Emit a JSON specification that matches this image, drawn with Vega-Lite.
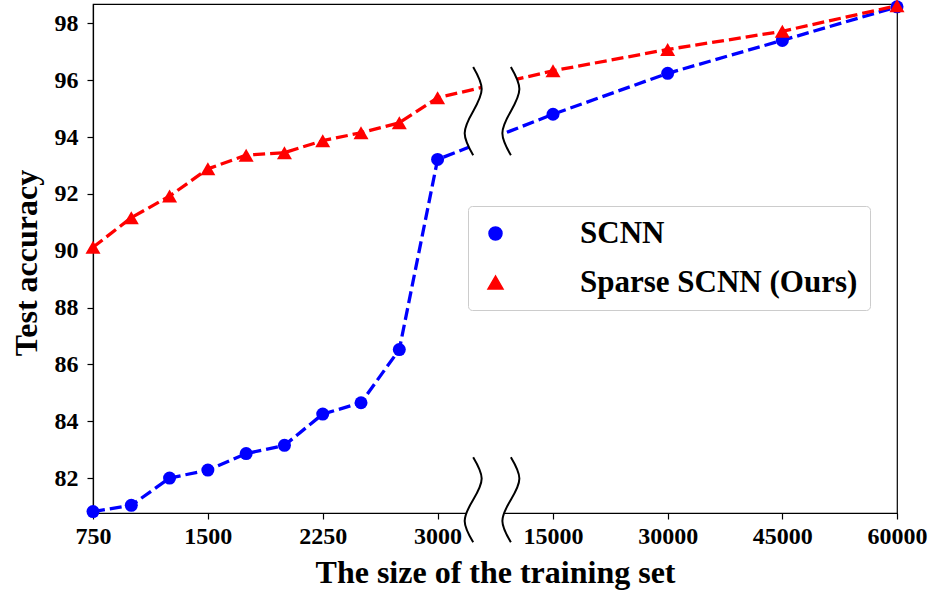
{
  "$schema": "https://vega.github.io/schema/vega-lite/v6.json",
  "width": 804,
  "height": 509,
  "autosize": {"type": "none"},
  "padding": {"left": 93, "top": 4, "right": 37, "bottom": 81},
  "background": "white",
  "config": {
    "font": "Liberation Serif",
    "view": {"stroke": "black", "strokeWidth": 1.2},
    "axis": {
      "grid": false,
      "labelFont": "Liberation Serif",
      "labelFontSize": 24,
      "labelFontWeight": "bold",
      "labelColor": "black",
      "tickColor": "black",
      "tickSize": 6,
      "tickWidth": 1.2,
      "domainColor": "black",
      "domainWidth": 1.2,
      "titleFont": "Liberation Serif",
      "titleFontSize": 32,
      "titleFontWeight": "bold",
      "titleColor": "black",
      "labelOverlap": false,
      "labelFlush": false
    },
    "legend": {
      "orient": "none",
      "legendX": 375,
      "legendY": 202,
      "title": null,
      "labelFont": "Liberation Serif",
      "labelFontSize": 31,
      "labelFontWeight": "bold",
      "labelColor": "black",
      "labelLimit": 500,
      "padding": 12,
      "rowPadding": 17,
      "symbolSize": 576,
      "labelOffset": 69,
      "strokeColor": "#cccccc",
      "fillColor": "white",
      "cornerRadius": 4
    }
  },
  "datasets": {
    "acc": [
      {"size": 750, "acc": 80.82, "series": "SCNN"},
      {"size": 1000, "acc": 81.04, "series": "SCNN"},
      {"size": 1250, "acc": 82.0, "series": "SCNN"},
      {"size": 1500, "acc": 82.28, "series": "SCNN"},
      {"size": 1750, "acc": 82.86, "series": "SCNN"},
      {"size": 2000, "acc": 83.15, "series": "SCNN"},
      {"size": 2250, "acc": 84.25, "series": "SCNN"},
      {"size": 2500, "acc": 84.65, "series": "SCNN"},
      {"size": 2750, "acc": 86.52, "series": "SCNN"},
      {"size": 3000, "acc": 93.21, "series": "SCNN"},
      {"size": 15000, "acc": 94.8, "series": "SCNN"},
      {"size": 30000, "acc": 96.24, "series": "SCNN"},
      {"size": 45000, "acc": 97.4, "series": "SCNN"},
      {"size": 60000, "acc": 98.58, "series": "SCNN"},
      {"size": 750, "acc": 90.12, "series": "Sparse SCNN (Ours)"},
      {"size": 1000, "acc": 91.16, "series": "Sparse SCNN (Ours)"},
      {"size": 1250, "acc": 91.92, "series": "Sparse SCNN (Ours)"},
      {"size": 1500, "acc": 92.88, "series": "Sparse SCNN (Ours)"},
      {"size": 1750, "acc": 93.36, "series": "Sparse SCNN (Ours)"},
      {"size": 2000, "acc": 93.45, "series": "Sparse SCNN (Ours)"},
      {"size": 2250, "acc": 93.87, "series": "Sparse SCNN (Ours)"},
      {"size": 2500, "acc": 94.15, "series": "Sparse SCNN (Ours)"},
      {"size": 2750, "acc": 94.5, "series": "Sparse SCNN (Ours)"},
      {"size": 3000, "acc": 95.38, "series": "Sparse SCNN (Ours)"},
      {"size": 15000, "acc": 96.33, "series": "Sparse SCNN (Ours)"},
      {"size": 30000, "acc": 97.08, "series": "Sparse SCNN (Ours)"},
      {"size": 45000, "acc": 97.72, "series": "Sparse SCNN (Ours)"},
      {"size": 60000, "acc": 98.62, "series": "Sparse SCNN (Ours)"}
    ],
    "breaks": [
      {"part": "top", "t": 0, "acc": 96.46, "left": 6700, "right": 10620},
      {"part": "top", "t": 1, "acc": 95.685, "left": 7584, "right": 11504},
      {"part": "top", "t": 2, "acc": 94.91, "left": 6700, "right": 10620},
      {"part": "top", "t": 3, "acc": 94.135, "left": 5816, "right": 9736},
      {"part": "top", "t": 4, "acc": 93.36, "left": 6700, "right": 10620},
      {"part": "bottom", "t": 0, "acc": 82.73, "left": 6700, "right": 10620},
      {"part": "bottom", "t": 1, "acc": 81.98, "left": 7584, "right": 11504},
      {"part": "bottom", "t": 2, "acc": 81.235, "left": 6700, "right": 10620},
      {"part": "bottom", "t": 3, "acc": 80.49, "left": 5816, "right": 9736},
      {"part": "bottom", "t": 4, "acc": 79.74, "left": 6700, "right": 10620}
    ]
  },
  "encoding": {
    "y": {
      "field": "acc",
      "type": "quantitative",
      "title": "Test accuracy",
      "scale": {"domain": [80.77, 98.68], "zero": false, "nice": false},
      "axis": {
        "values": [82, 84, 86, 88, 90, 92, 94, 96, 98],
        "labelPadding": 9,
        "titleX": -57,
        "titleY": 258.5,
        "titleBaseline": "alphabetic",
        "titleAlign": "center",
        "titleAngle": -90
      }
    }
  },
  "layer": [
    {
      "data": {"name": "acc"},
      "mark": {"type": "line", "strokeWidth": 3.3, "strokeDash": [12, 5]},
      "encoding": {
        "x": {
          "field": "size",
          "type": "quantitative",
          "title": "The size of the training set",
          "scale": {"domain": [750, 3000, 15000, 60000], "range": [0, 344.6, 460, 804], "zero": false, "nice": false},
          "axis": {
            "values": [750, 1500, 2250, 3000, 15000, 30000, 45000, 60000],
            "format": "d",
            "labelPadding": 5,
            "titleY": 69,
            "titleBaseline": "alphabetic"
          }
        },
        "color": {
          "field": "series",
          "type": "nominal",
          "scale": {"domain": ["SCNN", "Sparse SCNN (Ours)"], "range": ["#0000ff", "#ff0000"]}
        }
      }
    },
    {
      "data": {"name": "acc"},
      "mark": {"type": "point", "filled": true, "opacity": 1, "strokeWidth": 0},
      "encoding": {
        "x": {"field": "size", "type": "quantitative", "title": "The size of the training set"},
        "color": {
          "field": "series",
          "type": "nominal",
          "legend": {
            "title": null,
            "labelExpr": "datum.label + '\u00a0\u00a0'",
            "encode": {
              "symbols": {
                "shape": {
                  "condition": {"test": "datum.value === 'SCNN'", "value": "M-0.83,-0.125L0.25,-0.125L0.25,0.125L-0.83,0.125Z M0.58,-0.125L1.5,-0.125L1.5,0.125L0.58,0.125Z M2.17,-0.125L3.17,-0.125L3.17,0.125L2.17,0.125Z M3.58,-0.125L4.5,-0.125L4.5,0.125L3.58,0.125Z M2.25,0A0.5,0.5,0,1,1,1.25,0A0.5,0.5,0,1,1,2.25,0Z"},
                  "value": "M-0.83,-0.125L0.25,-0.125L0.25,0.125L-0.83,0.125Z M0.58,-0.125L1.5,-0.125L1.5,0.125L0.58,0.125Z M2.17,-0.125L3.17,-0.125L3.17,0.125L2.17,0.125Z M3.58,-0.125L4.5,-0.125L4.5,0.125L3.58,0.125Z M1.75,-0.55L2.33,0.5L1.17,0.5Z"
                },
                "size": {"value": 576},
                "strokeWidth": {"value": 0},
                "opacity": {"value": 1}
              }
            }
          }
        },
        "shape": {
          "field": "series",
          "type": "nominal",
          "scale": {"domain": ["SCNN", "Sparse SCNN (Ours)"], "range": ["circle", "triangle-up"]},
          "legend": null
        },
        "size": {
          "field": "series",
          "type": "nominal",
          "scale": {"domain": ["SCNN", "Sparse SCNN (Ours)"], "range": [169, 225]},
          "legend": null
        }
      }
    },
    {
      "data": {"name": "breaks"},
      "mark": {"type": "area", "orient": "horizontal", "interpolate": "natural", "fill": "white", "opacity": 1},
      "encoding": {
        "x": {"field": "left", "type": "quantitative", "title": "The size of the training set"},
        "x2": {"field": "right"},
        "detail": {"field": "part", "type": "nominal"}
      }
    },
    {
      "data": {"name": "breaks"},
      "mark": {"type": "line", "interpolate": "natural", "color": "black", "strokeWidth": 2},
      "encoding": {
        "x": {"field": "left", "type": "quantitative", "title": "The size of the training set"},
        "order": {"field": "t", "type": "quantitative"},
        "detail": {"field": "part", "type": "nominal"}
      }
    },
    {
      "data": {"name": "breaks"},
      "mark": {"type": "line", "interpolate": "natural", "color": "black", "strokeWidth": 2},
      "encoding": {
        "x": {"field": "right", "type": "quantitative", "title": "The size of the training set"},
        "order": {"field": "t", "type": "quantitative"},
        "detail": {"field": "part", "type": "nominal"}
      }
    }
  ]
}
